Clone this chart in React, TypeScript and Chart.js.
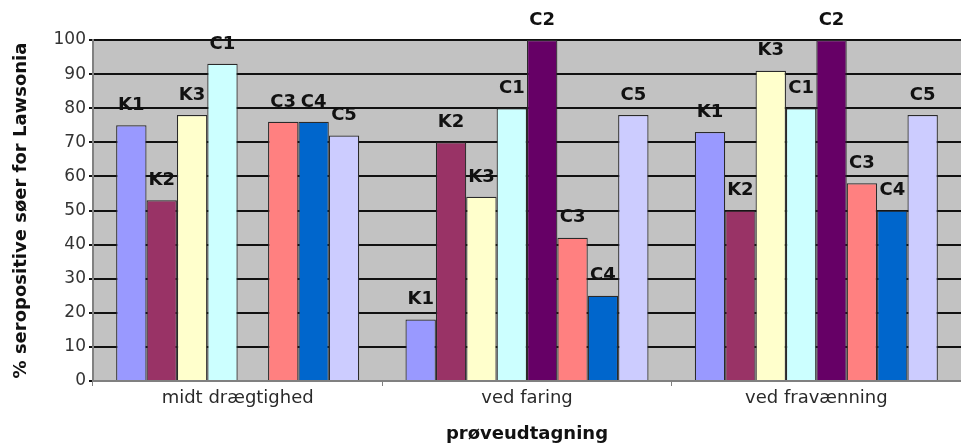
import React, { useEffect, useRef } from "react";
import { Chart, registerables } from "chart.js";

Chart.register(...registerables);

const categories = ["midt drægtighed", "ved faring", "ved fravænning"];
const seriesNames = ["K1", "K2", "K3", "C1", "C2", "C3", "C4", "C5"];
const K1 = [75, 18, 73];
const K2 = [53, 70, 50];
const K3 = [78, 54, 91];
const C1 = [93, 80, 80];
const C2 = [null, 100, 100];
const C3 = [76, 42, 58];
const C4 = [76, 25, 50];
const C5 = [72, 78, 78];
const seriesValues = [K1, K2, K3, C1, C2, C3, C4, C5];
const seriesColors = ["#9999ff", "#993366", "#ffffcc", "#ccffff", "#660066", "#ff8080", "#0066cc", "#ccccff"];
const yTitle = "% seropositive søer for Lawsonia";
const xTitle = "prøveudtagning";

const FONT = "'DejaVu Sans', sans-serif";

const plotBg = {
  id: "plotBg",
  beforeDraw(chart: any) {
    const { ctx, chartArea } = chart;
    ctx.save();
    ctx.fillStyle = "#c2c2c2";
    ctx.fillRect(chartArea.left, chartArea.top, chartArea.right - chartArea.left, chartArea.bottom - chartArea.top);
    ctx.strokeStyle = "#808080";
    ctx.lineWidth = 2;
    ctx.beginPath();
    ctx.moveTo(chartArea.left, chartArea.top);
    ctx.lineTo(chartArea.right, chartArea.top);
    ctx.stroke();
    ctx.restore();
  },
};

const barLabels = {
  id: "barLabels",
  afterDatasetsDraw(chart: any) {
    const { ctx } = chart;
    ctx.save();
    ctx.font = `bold 18px ${FONT}`;
    ctx.fillStyle = "#111";
    ctx.textAlign = "center";
    ctx.textBaseline = "middle";
    chart.data.datasets.forEach((ds: any, i: number) => {
      const meta = chart.getDatasetMeta(i);
      meta.data.forEach((el: any, j: number) => {
        if (ds.data[j] === null || ds.data[j] === undefined) return;
        ctx.fillText(ds.label, el.x, el.y - 20);
      });
    });
    ctx.restore();
  },
};

export default function App() {
  const ref = useRef<HTMLCanvasElement>(null);
  useEffect(() => {
    document.body.style.margin = "0";
    const chart = new Chart(ref.current!, {
      type: "bar",
      data: {
        labels: categories,
        datasets: seriesNames.map((name, i) => ({
          label: name,
          data: seriesValues[i],
          backgroundColor: seriesColors[i],
          borderColor: "#2a2a2a",
          borderWidth: 1.2,
          categoryPercentage: 0.84,
          barPercentage: 1,
        })),
      },
      options: {
        animation: false,
        responsive: false,
        devicePixelRatio: 1,
        layout: { padding: { top: 40, right: 0, left: 0, bottom: 0 } },
        plugins: {
          legend: { display: false },
          tooltip: { enabled: false },
        },
        scales: {
          x: {
            grid: { drawOnChartArea: false, tickLength: 5, tickColor: "#808080", offset: true },
            border: { color: "#808080", width: 2 },
            ticks: { color: "#2a2a2a", font: { family: FONT, size: 18 }, padding: 2 },
            title: {
              display: true,
              text: xTitle,
              color: "#111",
              font: { family: FONT, size: 18, weight: "bold" },
              padding: { top: 0, bottom: 1 },
            },
            afterFit(scale: any) {
              scale.height = 65;
            },
          },
          y: {
            min: 0,
            max: 100,
            ticks: { stepSize: 10, color: "#333", font: { family: FONT, size: 17 }, padding: 3 },
            grid: { color: "#111", lineWidth: 2, tickLength: 4, tickColor: "#111" },
            border: { color: "#808080", width: 2 },
            title: {
              display: true,
              text: yTitle,
              color: "#111",
              font: { family: FONT, size: 18, weight: "bold" },
              padding: { top: 11, bottom: 0 },
            },
            afterFit(scale: any) {
              scale.width = 93;
            },
          },
        },
      },
      plugins: [plotBg, barLabels],
    });
    return () => chart.destroy();
  }, []);
  return (
    <div style={{ width: 961, height: 446 }}>
      <canvas ref={ref} width={961} height={446} />
    </div>
  );
}
